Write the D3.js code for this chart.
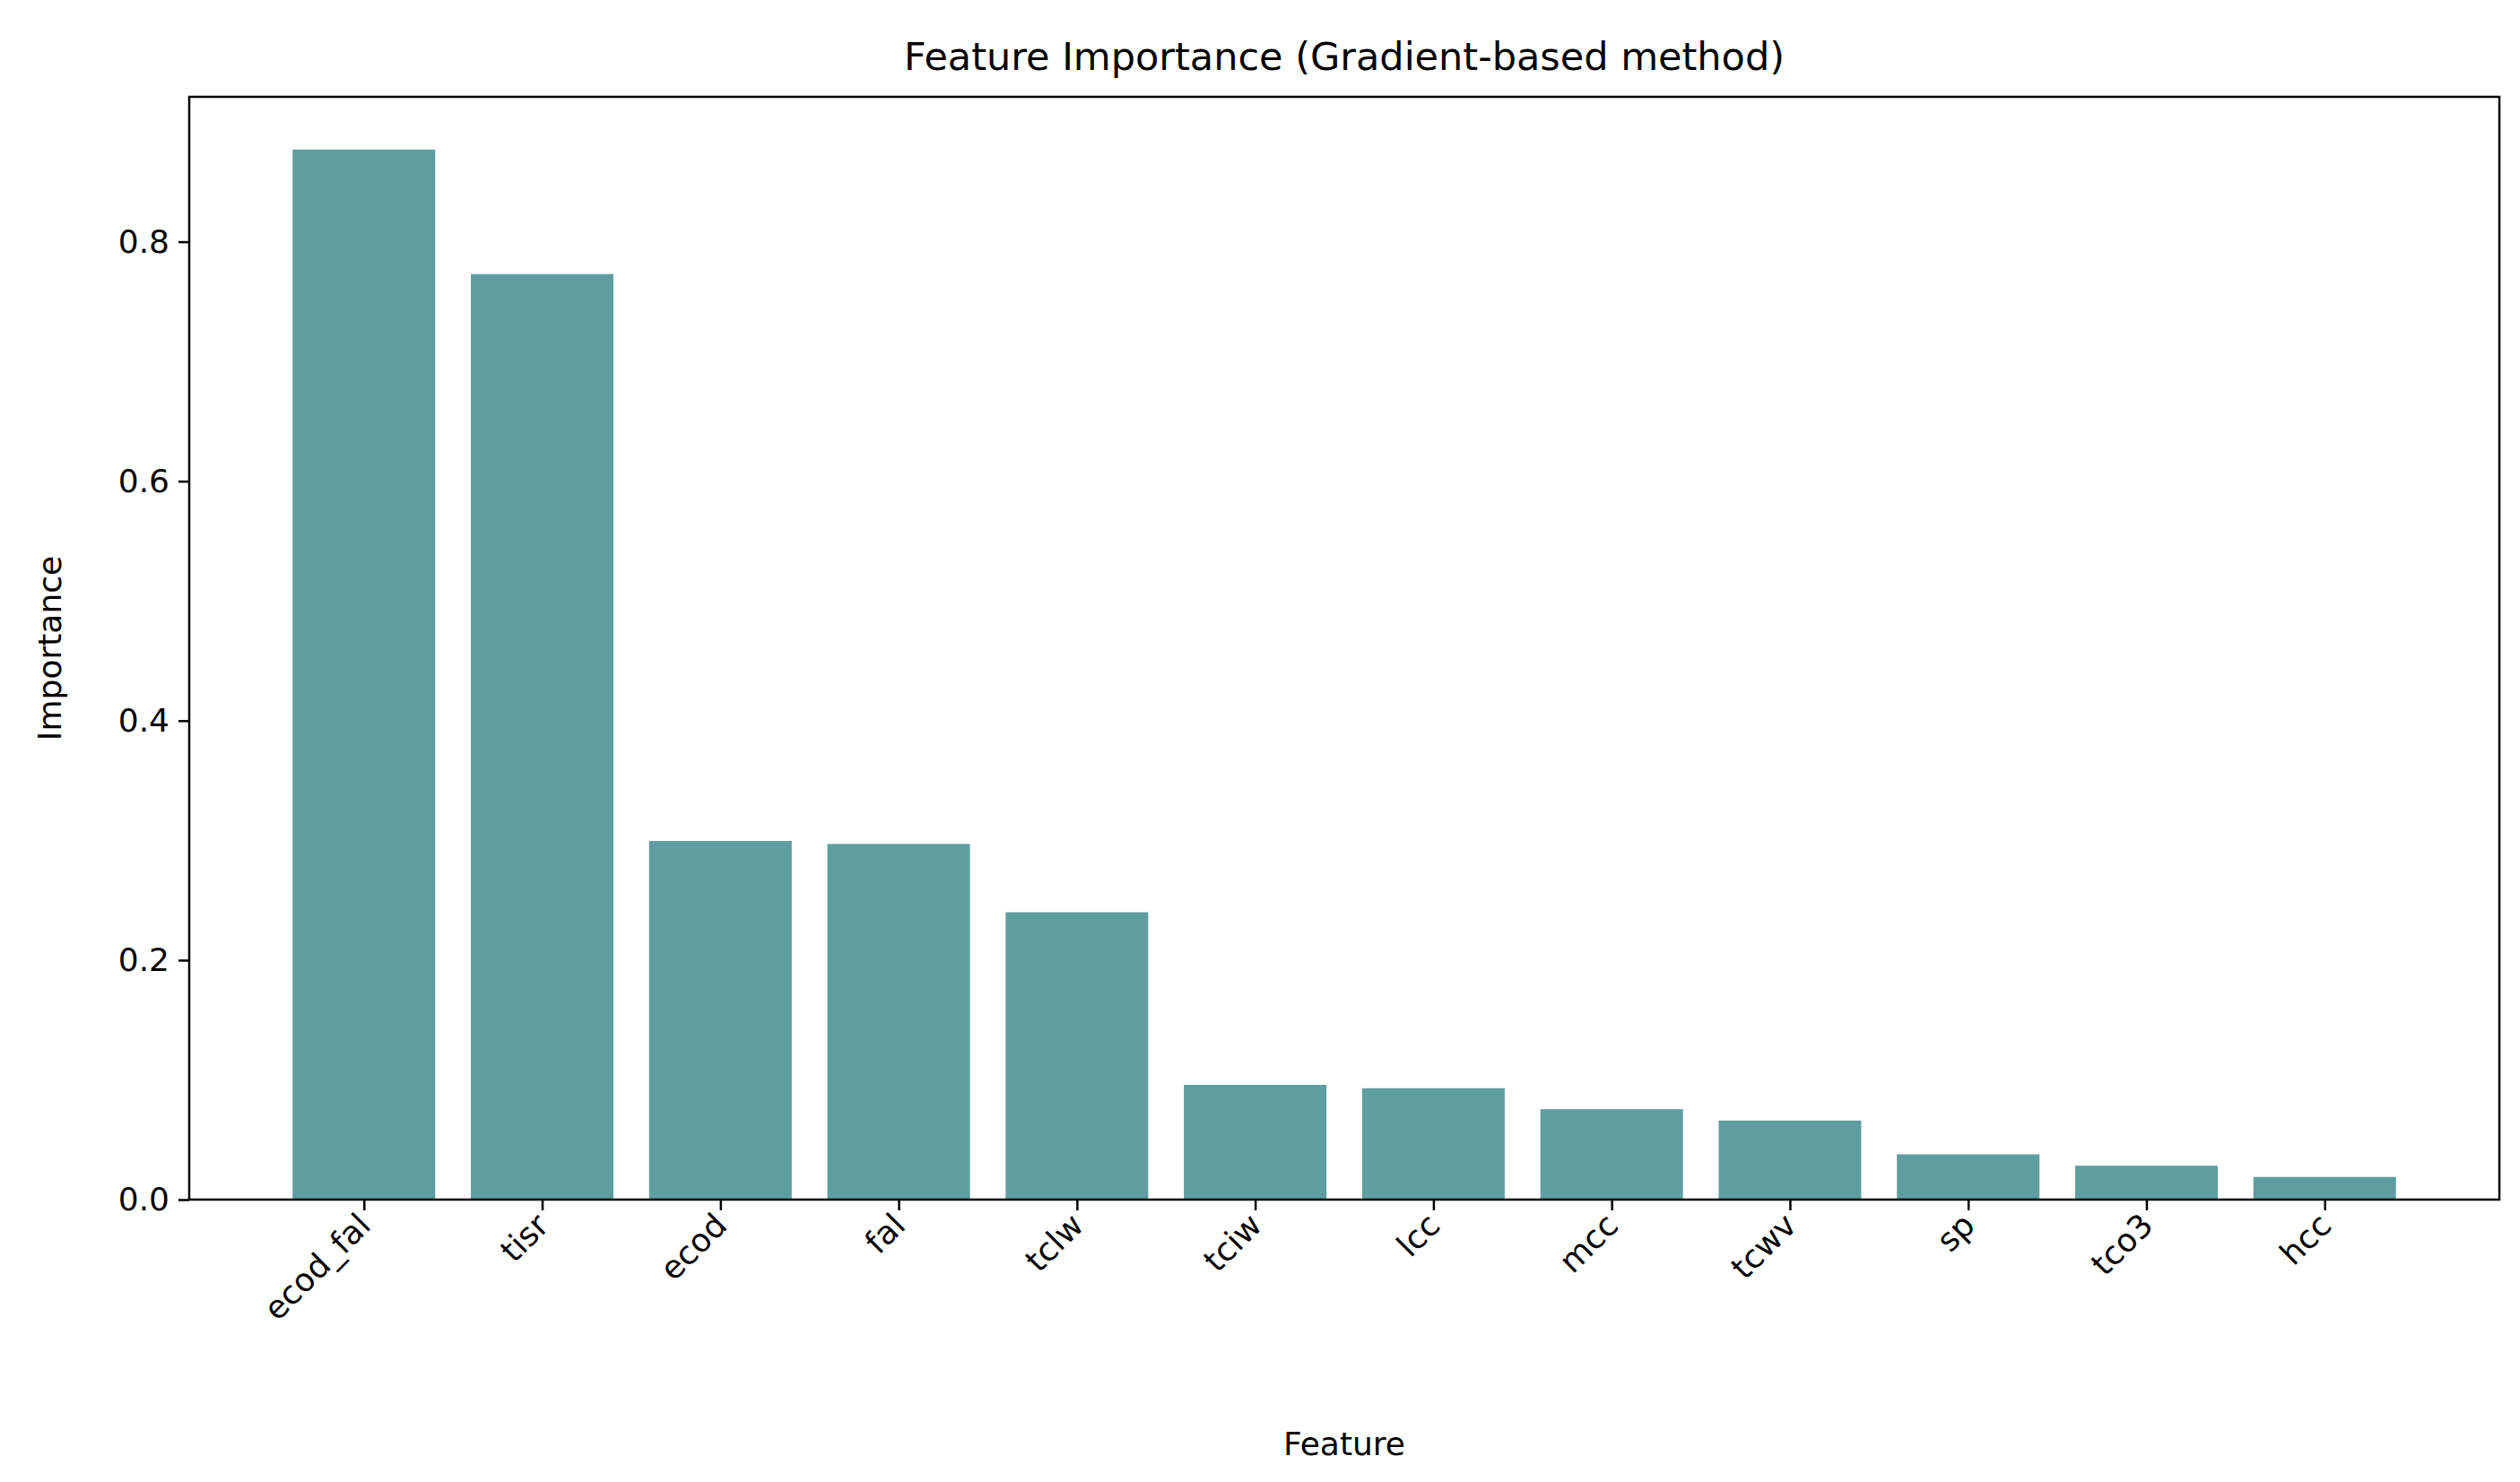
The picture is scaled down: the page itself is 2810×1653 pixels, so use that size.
<!DOCTYPE html>
<html>
<head>
<meta charset="utf-8">
<script src="https://cdn.jsdelivr.net/npm/d3@7"></script>
<style>
  body { margin: 0; background: #fff; }
  text { font-family: "DejaVu Sans", sans-serif; fill: #000; }
</style>
</head>
<body>
<svg id="chart" width="2810" height="1653"></svg>
<script>
// values
var features = ["ecod_fal", "tisr", "ecod", "fal", "tclw", "tciw", "lcc", "mcc", "tcwv", "sp", "tco3", "hcc"];
var importance = [0.877, 0.773, 0.2995, 0.297, 0.240, 0.0958, 0.093, 0.0755, 0.066, 0.0378, 0.0283, 0.0189];
var yTicks = [0.0, 0.2, 0.4, 0.6, 0.8];

var svg = d3.select("#chart");
var m = { left: 211, right: 2787, top: 108, bottom: 1338 };

var x = d3.scaleLinear().domain([-0.98, 11.98]).range([m.left, m.right]);
var y = d3.scaleLinear().domain([0, 0.921]).range([m.bottom, m.top]);

svg.append("g").selectAll("rect")
  .data(importance)
  .join("rect")
  .attr("x", (d, i) => x(i - 0.4))
  .attr("width", x(0.8) - x(0))
  .attr("y", d => y(d))
  .attr("height", d => y(0) - y(d))
  .attr("fill", "#5f9ea0");

// axes
var yAxis = d3.axisLeft(y).tickValues(yTicks).tickFormat(d3.format(".1f")).tickSize(12).tickPadding(10);
var gy = svg.append("g").attr("transform", "translate(" + m.left + ",0)").call(yAxis);
gy.selectAll("text").style("font-size", "36px");

var xAxis = d3.axisBottom(x).tickValues(d3.range(features.length)).tickFormat(i => features[i]).tickSize(12);
var gx = svg.append("g").attr("transform", "translate(0," + m.bottom + ")").call(xAxis);
gx.selectAll("text")
  .style("font-size", "36px")
  .attr("text-anchor", "end")
  .attr("dy", "0.35em")
  .attr("transform", "translate(0,22) rotate(-45)")
  .attr("x", 0).attr("y", 0);

svg.selectAll(".domain").remove();
svg.selectAll(".tick line").attr("stroke", "#000").attr("stroke-width", 2.5);

svg.append("rect")
  .attr("x", m.left).attr("y", m.top)
  .attr("width", m.right - m.left).attr("height", m.bottom - m.top)
  .attr("fill", "none").attr("stroke", "#000").attr("stroke-width", 2.5);

// labels
svg.append("text").attr("x", (m.left + m.right) / 2).attr("y", 78)
  .attr("text-anchor", "middle").style("font-size", "43px")
  .text("Feature Importance (Gradient-based method)");
svg.append("text").attr("x", (m.left + m.right) / 2).attr("y", 1623)
  .attr("text-anchor", "middle").style("font-size", "36px").text("Feature");
svg.append("text").attr("transform", "translate(68," + (m.top + m.bottom) / 2 + ") rotate(-90)")
  .attr("text-anchor", "middle").style("font-size", "36px").text("Importance");
</script>
</body>
</html>
